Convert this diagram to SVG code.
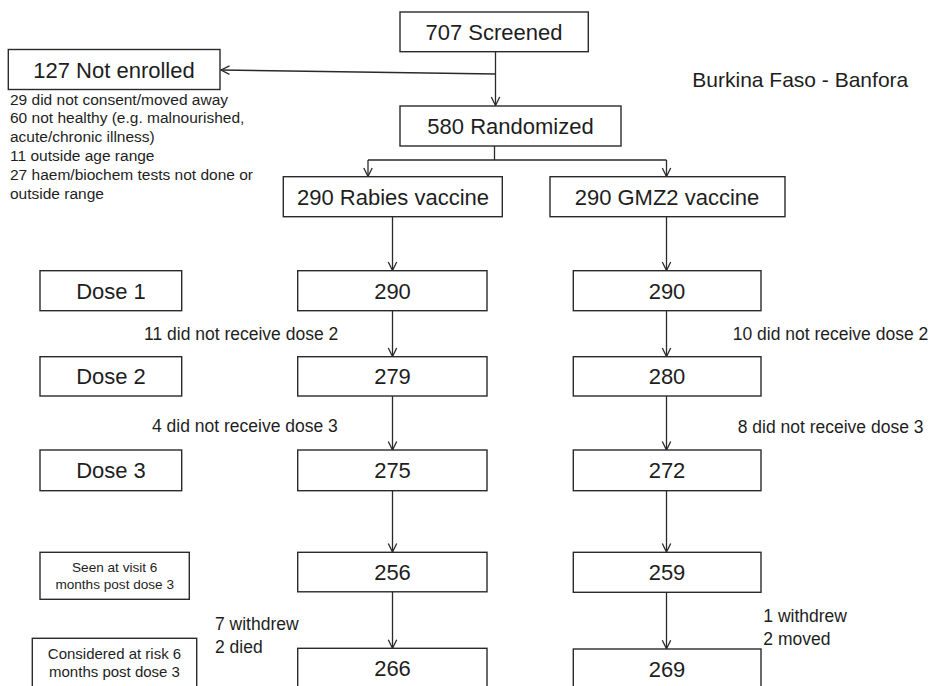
<svg xmlns="http://www.w3.org/2000/svg" width="931" height="686" viewBox="0 0 931 686">
<style>
.box{fill:#fff;stroke:#2a2a2a;stroke-width:1.4}
.t{font-family:"Liberation Sans",Arial,sans-serif;fill:#1e1e1e}
.big{font-size:22px;text-anchor:middle}
.mid{font-size:17.5px}
.sm{font-size:15.5px}
.c{text-anchor:middle}
.con{fill:none;stroke:#2a2a2a;stroke-width:1.3}
</style>
<defs>
<marker id="arr" markerUnits="userSpaceOnUse" viewBox="-10 -6 12 12" markerWidth="12" markerHeight="12" refX="0" refY="0" orient="auto" overflow="visible">
<path d="M-8.5,-4.2 L0,0 L-8.5,4.2" fill="none" stroke="#2a2a2a" stroke-width="1.3"/>
</marker>
</defs>
<rect width="931" height="686" fill="#fff"/>

<g id="connectors" class="con">
<path d="M495.5,51.7 V105.5" marker-end="url(#arr)"/>
<path d="M495.5,74 L221,70" marker-end="url(#arr)"/>
<path d="M494.5,146 V160 M368,160 H666.5"/>
<path d="M368,160 V176.5" marker-end="url(#arr)"/>
<path d="M666.5,160 V176.5" marker-end="url(#arr)"/>
<path d="M392.5,216.7 V270.5" marker-end="url(#arr)"/>
<path d="M392.5,310.7 V356.5" marker-end="url(#arr)"/>
<path d="M392.5,396 V450" marker-end="url(#arr)"/>
<path d="M392.5,491 V552" marker-end="url(#arr)"/>
<path d="M392.5,592 V648.3" marker-end="url(#arr)"/>
<path d="M666.5,216.7 V270.5" marker-end="url(#arr)"/>
<path d="M666.5,310.7 V356.5" marker-end="url(#arr)"/>
<path d="M666.5,396 V450" marker-end="url(#arr)"/>
<path d="M666.5,491 V552" marker-end="url(#arr)"/>
<path d="M666.5,592 V648.8" marker-end="url(#arr)"/>
</g>

<g id="screened"><rect class="box" x="400" y="12" width="188.3" height="39.7"/><text class="t big" x="494" y="40">707 Screened</text></g>
<g id="not-enrolled"><rect class="box" x="8.3" y="49.5" width="211.7" height="40"/><text class="t big" x="114" y="77.5">127 Not enrolled</text></g>
<g id="exclusion-reasons">
<text class="t sm" x="10" y="104.5">29 did not consent/moved away</text>
<text class="t sm" x="10" y="123.4">60 not healthy (e.g. malnourished,</text>
<text class="t sm" x="10" y="142.3">acute/chronic illness)</text>
<text class="t sm" x="10" y="161.2">11 outside age range</text>
<text class="t sm" x="10" y="180.1">27 haem/biochem tests not done or</text>
<text class="t sm" x="10" y="199">outside range</text>
</g>
<g id="site"><text class="t" style="font-size:21px" x="692.3" y="87.3">Burkina Faso - Banfora</text></g>
<g id="randomized"><rect class="box" x="400" y="106" width="221" height="40"/><text class="t big" x="510.5" y="134">580 Randomized</text></g>
<g id="rabies"><rect class="box" x="283.3" y="176.7" width="219" height="40"/><text class="t big" x="393" y="204.5">290 Rabies vaccine</text></g>
<g id="gmz2"><rect class="box" x="550" y="176.7" width="235" height="40"/><text class="t big" x="667" y="204.5">290 GMZ2 vaccine</text></g>

<g id="dose1-label"><rect class="box" x="40" y="270.7" width="141.7" height="40"/><text class="t big" x="111" y="298.5">Dose 1</text></g>
<g id="dose2-label"><rect class="box" x="40" y="356.7" width="141.7" height="39.3"/><text class="t big" x="111" y="384.2">Dose 2</text></g>
<g id="dose3-label"><rect class="box" x="40" y="450" width="141.7" height="40.7"/><text class="t big" x="111" y="478.2">Dose 3</text></g>
<g id="visit6-label"><rect class="box" x="40" y="552.3" width="149.3" height="47"/>
<text class="t c" style="font-size:13.6px" x="114.7" y="571.5">Seen at visit 6</text>
<text class="t c" style="font-size:13.6px" x="114.7" y="589.3">months post dose 3</text></g>
<g id="atrisk-label"><rect class="box" x="32.3" y="638.3" width="164.4" height="60"/>
<text class="t c" style="font-size:15px" x="114.5" y="659">Considered at risk 6</text>
<text class="t c" style="font-size:15px" x="114.5" y="677.3">months post dose 3</text></g>

<g id="r-dose1"><rect class="box" x="297.7" y="270.7" width="189.3" height="40"/><text class="t big" x="392.5" y="298.5">290</text></g>
<g id="r-dose2"><rect class="box" x="297.7" y="356.7" width="189.3" height="39.3"/><text class="t big" x="392.5" y="384.2">279</text></g>
<g id="r-dose3"><rect class="box" x="297.7" y="450" width="189.3" height="40.7"/><text class="t big" x="392.5" y="478.2">275</text></g>
<g id="r-visit6"><rect class="box" x="297.7" y="552.3" width="189.3" height="39.5"/><text class="t big" x="392.5" y="579.8">256</text></g>
<g id="r-atrisk"><rect class="box" x="297.7" y="648.3" width="189.3" height="60"/><text class="t big" x="392.5" y="676">266</text></g>

<g id="g-dose1"><rect class="box" x="573.3" y="270.7" width="187.7" height="40"/><text class="t big" x="667" y="298.5">290</text></g>
<g id="g-dose2"><rect class="box" x="573.3" y="356.7" width="187.7" height="39.3"/><text class="t big" x="667" y="384.2">280</text></g>
<g id="g-dose3"><rect class="box" x="573.3" y="450" width="187.7" height="40.7"/><text class="t big" x="667" y="478.2">272</text></g>
<g id="g-visit6"><rect class="box" x="573.3" y="552.3" width="187.7" height="40"/><text class="t big" x="667" y="580">259</text></g>
<g id="g-atrisk"><rect class="box" x="573.3" y="649" width="187.7" height="60"/><text class="t big" x="667" y="676.5">269</text></g>

<g id="losses">
<text class="t mid" x="144" y="340">11 did not receive dose 2</text>
<text class="t mid" x="152" y="431.7">4 did not receive dose 3</text>
<text class="t mid" x="732.7" y="340">10 did not receive dose 2</text>
<text class="t mid" x="737.7" y="433.3">8 did not receive dose 3</text>
<text class="t mid" x="215" y="630">7 withdrew</text>
<text class="t mid" x="215" y="653.3">2 died</text>
<text class="t mid" x="763.3" y="621.7">1 withdrew</text>
<text class="t mid" x="763.3" y="645">2 moved</text>
</g>
</svg>
